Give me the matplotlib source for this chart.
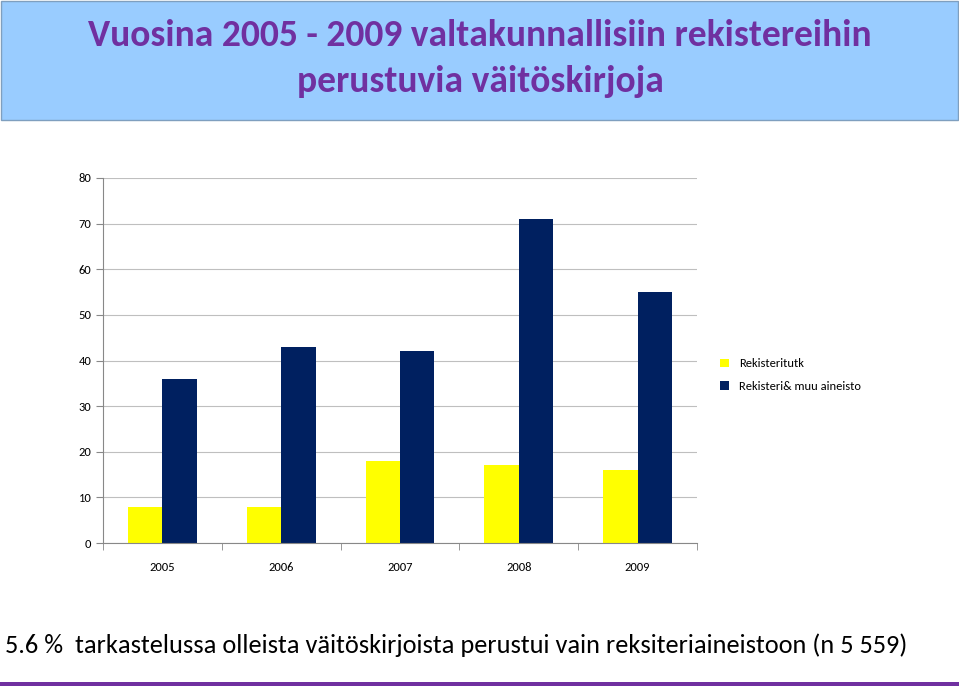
import matplotlib.pyplot as plt
import numpy as np
from matplotlib.patches import Rectangle

years = ["2005", "2006", "2007", "2008", "2009"]
rekisteritutk = [8, 8, 18, 17, 16]
rekisteri_muu = [36, 43, 42, 71, 55]

W, H = 959, 686
fig = plt.figure(figsize=(W / 100, H / 100), dpi=100)
plt.rcParams["font.family"] = ["Carlito", "Liberation Sans", "DejaVu Sans"]

# title banner
fig.patches.append(Rectangle((1 / W, 1 - 120 / H), 957 / W, 119 / H, transform=fig.transFigure,
                             facecolor="#99CCFF", edgecolor="#7F9FBF", linewidth=1))
fig.text(480 / W, 1 - 35 / H, "Vuosina 2005 - 2009 valtakunnallisiin rekistereihin",
         ha="center", va="center", fontsize=27, fontweight="bold", color="#7030A0")
fig.text(480 / W, 1 - 82 / H, "perustuvia väitöskirjoja",
         ha="center", va="center", fontsize=27, fontweight="bold", color="#7030A0")

ax = fig.add_axes([103 / W, 1 - 543 / H, 594 / W, 365 / H])
x = np.arange(len(years))
w = 0.29
ax.bar(x - w / 2, rekisteritutk, w, color="#FFFF00", label="Rekisteritutk")
ax.bar(x + w / 2, rekisteri_muu, w, color="#002060", label="Rekisteri& muu aineisto")
ax.set_xlim(-0.5, len(years) - 0.5)
ax.set_ylim(0, 80)
ax.set_yticks(range(0, 81, 10))
ax.yaxis.grid(True, color="#BFBFBF", linewidth=0.8)
ax.set_axisbelow(True)
ax.set_xticks(x)
ax.set_xticklabels(years)
ax.set_xticks(np.arange(-0.5, len(years)), minor=True)
ax.tick_params(axis="x", which="major", length=0, pad=14, labelsize=9)
ax.tick_params(axis="x", which="minor", length=5, color="#888888")
ax.tick_params(axis="y", labelsize=9, length=5, color="#888888")
for s in ["top", "right"]:
    ax.spines[s].set_visible(False)
for s in ["left", "bottom"]:
    ax.spines[s].set_color("#888888")

ax.legend(loc="center left", bbox_to_anchor=(1.02, 0.46), frameon=False, fontsize=9,
          handlelength=0.7, handleheight=0.7, labelspacing=0.9)

fig.text(5 / W, 1 - 645 / H,
         "5.6 %  tarkastelussa olleista väitöskirjoista perustui vain reksiteriaineistoon (n 5 559)",
         ha="left", va="center", fontsize=19)
fig.patches.append(Rectangle((0, 0), 1, 4 / H, transform=fig.transFigure, facecolor="#7030A0"))

fig.savefig("out.png", dpi=100)
